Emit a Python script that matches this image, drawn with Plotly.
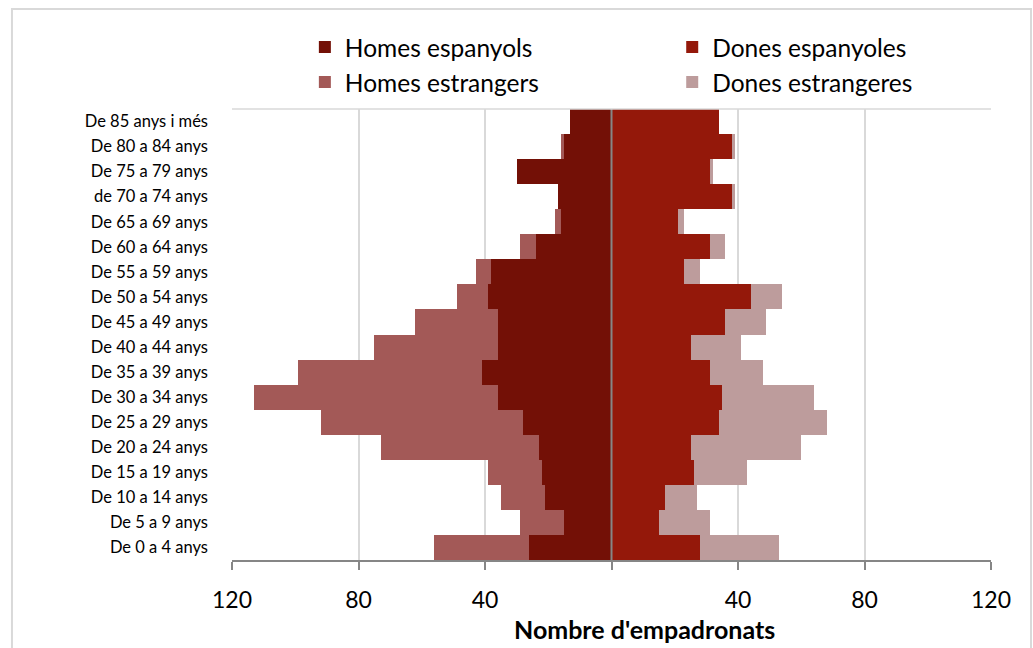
import plotly.graph_objects as go

# age groups, bottom to top
ages = [
    "De 0 a 4 anys", "De 5 a 9 anys", "De 10 a 14 anys", "De 15 a 19 anys",
    "De 20 a 24 anys", "De 25 a 29 anys", "De 30 a 34 anys", "De 35 a 39 anys",
    "De 40 a 44 anys", "De 45 a 49 anys", "De 50 a 54 anys", "De 55 a 59 anys",
    "De 60 a 64 anys", "De 65 a 69 anys", "de 70 a 74 anys", "De 75 a 79 anys",
    "De 80 a 84 anys", "De 85 anys i més",
]

homes_espanyols = [26, 15, 21, 22, 23, 28, 36, 41, 36, 36, 39, 38, 24, 16, 17, 30, 15, 13]
homes_estrangers = [30, 14, 14, 17, 50, 64, 77, 58, 39, 26, 10, 5, 5, 2, 0, 0, 1, 0]
dones_espanyoles = [28, 15, 17, 26, 25, 34, 35, 31, 25, 36, 44, 23, 31, 21, 38, 31, 38, 34]
dones_estrangeres = [25, 16, 10, 17, 35, 34, 29, 17, 16, 13, 10, 5, 5, 2, 1, 1, 1, 0]

tick_vals = [-120, -80, -40, 0, 40, 80, 120]
tick_text = ["120", "80", "40", "", "40", "80", "120"]

FONT = "Lato"

fig = go.Figure()
# men on the left (negative), spanish first so they sit next to the axis
fig.add_trace(go.Bar(y=ages, x=[-v for v in homes_espanyols], name="Homes espanyols",
                     orientation="h", marker=dict(color="#731006", line_width=0),
                     legend="legend"))
fig.add_trace(go.Bar(y=ages, x=[-v for v in homes_estrangers], name="Homes estrangers",
                     orientation="h", marker=dict(color="#a35957", line_width=0),
                     legend="legend"))
fig.add_trace(go.Bar(y=ages, x=dones_espanyoles, name="Dones espanyoles",
                     orientation="h", marker=dict(color="#94180a", line_width=0),
                     legend="legend2"))
fig.add_trace(go.Bar(y=ages, x=dones_estrangeres, name="Dones estrangeres",
                     orientation="h", marker=dict(color="#bd9c9c", line_width=0),
                     legend="legend2"))

legend_style = dict(
    orientation="v", yanchor="top", xanchor="left", y=1.187,
    font=dict(size=24.5, family=FONT), bgcolor="rgba(0,0,0,0)", traceorder="normal",
)

fig.update_layout(
    width=1033, height=648,
    barmode="relative", bargap=0,
    paper_bgcolor="white", plot_bgcolor="white",
    margin=dict(l=232, r=42, t=109, b=88),
    font=dict(family=FONT, color="black"),
    legend=dict(legend_style, x=0.096),
    legend2=dict(legend_style, x=0.58),
    showlegend=True,
)

fig.update_xaxes(
    range=[-120, 120], tickvals=tick_vals, ticktext=tick_text,
    showgrid=True, gridcolor="#d9d9d9", gridwidth=1.5,
    zeroline=False,
    showline=True, linecolor="#868686", linewidth=1.5,
    ticks="outside", ticklen=8, tickcolor="#868686", tickwidth=1.5,
    tickfont=dict(size=23, family=FONT), ticklabelstandoff=11,
)
fig.update_yaxes(
    categoryorder="array", categoryarray=ages,
    showgrid=False, showline=False, ticks="",
    tickfont=dict(size=16.5, family=FONT), ticklabelstandoff=23,
)

# vertical axis at zero, drawn over the bars
fig.add_shape(type="line", xref="x", yref="paper", x0=0, x1=0, y0=0, y1=1,
              layer="above", line=dict(color="#868686", width=2))
# plot-area top border and outer chart frame
fig.add_shape(type="line", xref="paper", yref="paper", x0=0, x1=1, y0=1, y1=1,
              line=dict(color="#d9d9d9", width=1.5))
fig.add_shape(type="rect", xref="paper", yref="paper",
              x0=-0.2899, x1=1.0527, y0=-0.2, y1=1.2217,
              line=dict(color="#d9d9d9", width=2))

fig.add_annotation(text="<b>Nombre d'empadronats</b>", xref="paper", yref="paper",
                   x=0.5435, y=-0.153, xanchor="center", yanchor="middle",
                   showarrow=False, font=dict(size=25, family=FONT))

fig.write_html("out.html", config={"displayModeBar": False},
               post_script="document.body.style.margin='0';")
